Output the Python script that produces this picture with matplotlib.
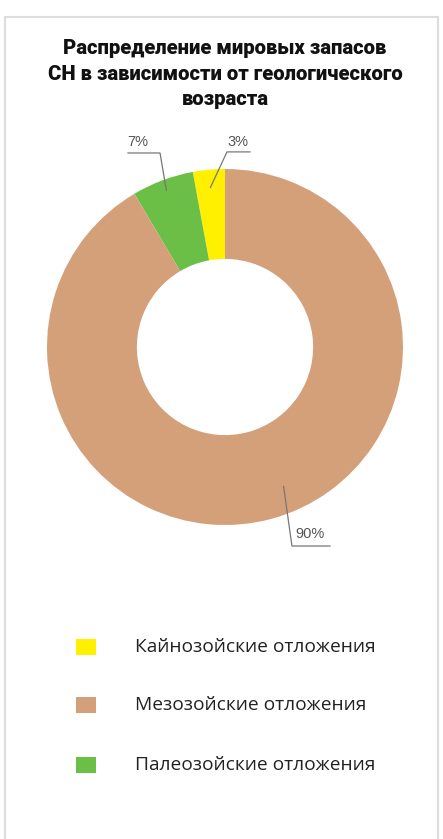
import matplotlib
matplotlib.use("Agg")
import matplotlib.pyplot as plt
from matplotlib.patches import Rectangle
import numpy as np

title = "Распределение мировых запасов\nСН в зависимости от геологического\nвозраста"
categories = ["Кайнозойские отложения", "Мезозойские отложения", "Палеозойские отложения"]
# slice sizes as drawn in the picture (angular spans)
values = [2.9, 91.5, 5.6]
# printed labels
pct_labels = ["3%", "90%", "7%"]
colors = ["#FFF000", "#D4A07A", "#6BBE46"]

W, H = 443, 839
fig = plt.figure(figsize=(W / 100, H / 100), dpi=100)
fig.patch.set_facecolor("white")

# border
fig.patches.append(Rectangle((5 / W, -0.01), 433 / W, (H - 17) / H + 0.01,
                             transform=fig.transFigure, fill=False,
                             edgecolor="#dddddd", linewidth=1.5))

fig.text(225 / W, 1 - 74 / H, title, ha="center", va="center",
         fontsize=14.6, fontweight=900, family="Roboto",
         linespacing=1.45, color="#111111")

cx, cy, R = 225, 347, 178
ax = fig.add_axes([(cx - R) / W, (H - cy - R) / H, 2 * R / W, 2 * R / H])
# drawing order counterclockwise from top: yellow, green, tan
order = [0, 2, 1]
wedges, _ = ax.pie([values[i] for i in order], colors=[colors[i] for i in order],
                   startangle=90, counterclock=True, radius=1,
                   wedgeprops=dict(width=0.505, linewidth=0))
ax.set_xlim(-1, 1)
ax.set_ylim(-1, 1)
ax.set_aspect("equal")
ax.axis("off")

wmap = {order[k]: wedges[k] for k in range(3)}
lab = {
    0: dict(r=0.9, da=0, elbow=(0.011, 1.096), end=0.14, text=(0.075, 1.15)),
    2: dict(r=0.94, da=0, elbow=(-0.365, 1.09), end=-0.545, text=(-0.49, 1.15)),
    1: dict(r=0.85, da=7.5, elbow=(0.376, -1.118), end=0.59, text=(0.48, -1.05)),
}
for i, cfg in lab.items():
    w = wmap[i]
    ang = np.deg2rad((w.theta1 + w.theta2) / 2 + cfg["da"])
    ax_, ay_ = cfg["r"] * np.cos(ang), cfg["r"] * np.sin(ang)
    ex, ey = cfg["elbow"]
    ax.plot([ax_, ex, cfg["end"]], [ay_, ey, ey], color="#777777", lw=0.9,
            clip_on=False, solid_joinstyle="miter")
    ax.text(cfg["text"][0], cfg["text"][1], pct_labels[i], ha="center", va="center",
            fontsize=10.5, family="Liberation Sans", color="#555555", clip_on=False)

# legend
leg_y = [647, 705, 765]
for i in range(3):
    y = 1 - leg_y[i] / H
    fig.patches.append(Rectangle((76 / W, y - 8 / H), 20 / W, 16 / H,
                                 transform=fig.transFigure, facecolor=colors[i],
                                 edgecolor="none"))
    fig.text(135 / W, y, categories[i], ha="left", va="center", fontsize=13.8,
             family="Open Sans", color="#222222")

fig.savefig("out.png", dpi=100, facecolor="white")
